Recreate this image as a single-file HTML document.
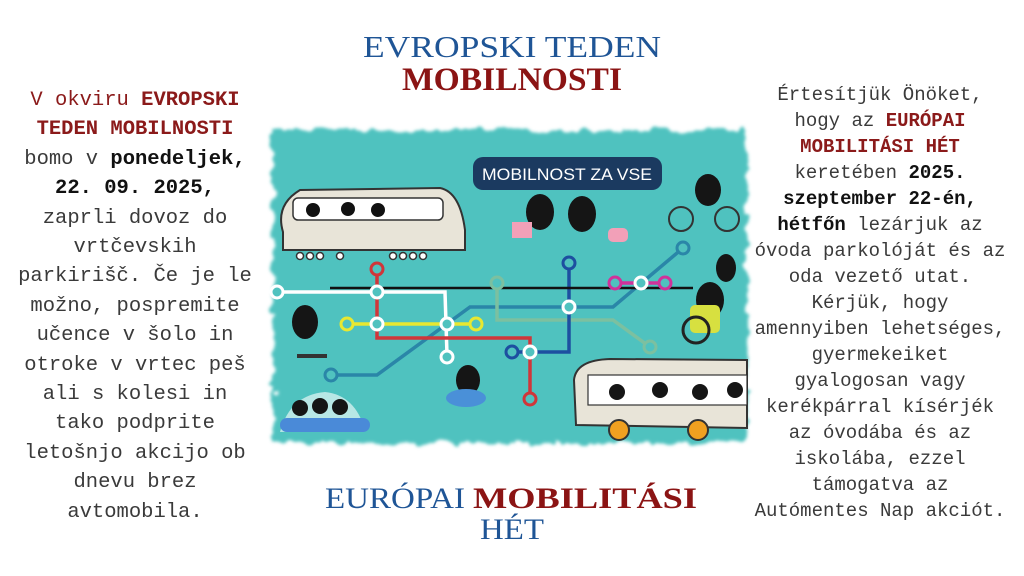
<!DOCTYPE html>
<html><head><meta charset="utf-8"><style>
html,body{margin:0;padding:0;background:#fff;}
body{width:1024px;height:576px;position:relative;overflow:hidden;}
.col{position:absolute;font-family:"Liberation Mono",monospace;text-align:center;color:#3a3a3a;white-space:nowrap;}
.col b{color:#111;}
.col .r{color:#8b1a1a;font-weight:bold;}
#L{left:0;width:270px;top:86px;font-size:20.5px;line-height:29.4px;}
#R{left:742px;width:276px;top:82px;font-size:19px;line-height:26px;}
svg{position:absolute;left:0;top:0;}
</style></head><body>
<svg width="1024" height="576" viewBox="0 0 1024 576">
<defs>
<filter id="f" x="-5%" y="-5%" width="110%" height="110%">
<feTurbulence type="fractalNoise" baseFrequency="0.08" numOctaves="2" result="n"/>
<feDisplacementMap in="SourceGraphic" in2="n" scale="14"/>
<feGaussianBlur stdDeviation="1.5"/>
</filter>
</defs>
<!-- titles -->
<text x="512" y="57" text-anchor="middle" font-family="Liberation Serif,serif" font-size="31" fill="#1f5596" textLength="298" lengthAdjust="spacingAndGlyphs">EVROPSKI TEDEN</text>
<text x="512" y="90" text-anchor="middle" font-family="Liberation Serif,serif" font-size="33" font-weight="bold" fill="#8b1414" textLength="220" lengthAdjust="spacingAndGlyphs">MOBILNOSTI</text>
<text x="325" y="508" font-family="Liberation Serif,serif" font-size="30" fill="#1f5596" textLength="140" lengthAdjust="spacingAndGlyphs">EURÓPAI</text>
<text x="473" y="508" font-family="Liberation Serif,serif" font-size="30" font-weight="bold" fill="#8b1414" textLength="224" lengthAdjust="spacingAndGlyphs">MOBILITÁSI</text>
<text x="512" y="539" text-anchor="middle" font-family="Liberation Serif,serif" font-size="30" fill="#1f5596" textLength="64" lengthAdjust="spacingAndGlyphs">HÉT</text>
<!-- teal panel -->
<rect x="273" y="130" width="474" height="313" fill="#50c2bf" filter="url(#f)"/>
<!-- pill -->
<rect x="473" y="157" width="189" height="33" rx="10" fill="#1b3a60"/>
<text x="567" y="180" text-anchor="middle" font-family="Liberation Sans,sans-serif" font-size="17" fill="#fff" textLength="170" lengthAdjust="spacingAndGlyphs">MOBILNOST ZA VSE</text>
<!-- tram -->
<path d="M283 232 Q275 205 300 190 L440 188 Q460 192 465 230 L465 250 L283 250 Z" fill="#e8e4d8" stroke="#333" stroke-width="2"/>
<rect x="293" y="198" width="150" height="22" rx="5" fill="#fff" stroke="#333" stroke-width="1.5"/>
<circle cx="313" cy="210" r="7" fill="#111"/><circle cx="348" cy="209" r="7" fill="#111"/><circle cx="378" cy="210" r="7" fill="#111"/>
<g fill="#fff" stroke="#333" stroke-width="1.5"><circle cx="300" cy="256" r="3.5"/><circle cx="310" cy="256" r="3.5"/><circle cx="320" cy="256" r="3.5"/><circle cx="340" cy="256" r="3.5"/><circle cx="393" cy="256" r="3.5"/><circle cx="403" cy="256" r="3.5"/><circle cx="413" cy="256" r="3.5"/><circle cx="423" cy="256" r="3.5"/></g>
<!-- lines -->
<g fill="none" stroke-width="3.5">
<polyline points="331,375 377,375 470,307 613,307 683,248" stroke="#2a86a8"/>
<polyline points="497,283 497,320 613,320 650,347" stroke="#7cc0a0"/>
<polyline points="277,292 445,292 447,355" stroke="#fff"/>
<polyline points="377,270 377,338 530,338 530,400" stroke="#d0363a"/>
<line x1="347" y1="324" x2="476" y2="324" stroke="#e8e830"/>
<polyline points="569,263 569,352 512,352" stroke="#1d4fa0"/>
<line x1="615" y1="283" x2="665" y2="283" stroke="#d0329a"/>
</g>
<line x1="330" y1="288" x2="693" y2="288" stroke="#111" stroke-width="2.5"/>
<g stroke-width="3" fill="#50c2bf">
<circle cx="277" cy="292" r="6" stroke="#fff"/><circle cx="447" cy="357" r="6" stroke="#fff"/>
<circle cx="377" cy="269" r="6" stroke="#d0363a"/><circle cx="530" cy="399" r="6" stroke="#d0363a"/>
<circle cx="347" cy="324" r="6" stroke="#e8e830"/><circle cx="476" cy="324" r="6" stroke="#e8e830"/>
<circle cx="331" cy="375" r="6" stroke="#2a86a8"/><circle cx="683" cy="248" r="6" stroke="#2a86a8"/>
<circle cx="569" cy="263" r="6" stroke="#1d4fa0"/><circle cx="512" cy="352" r="6" stroke="#1d4fa0"/>
<circle cx="615" cy="283" r="6" stroke="#d0329a"/><circle cx="665" cy="283" r="6" stroke="#d0329a"/>
<circle cx="497" cy="283" r="6" stroke="#7cc0a0"/><circle cx="650" cy="347" r="6" stroke="#7cc0a0"/>
<circle cx="377" cy="292" r="6" stroke="#fff"/><circle cx="377" cy="324" r="6" stroke="#fff"/><circle cx="447" cy="324" r="6" stroke="#fff"/><circle cx="569" cy="307" r="6" stroke="#fff"/><circle cx="530" cy="352" r="6" stroke="#fff"/><circle cx="641" cy="283" r="6" stroke="#fff"/>
</g>
<!-- characters -->
<g fill="#151515">
<ellipse cx="540" cy="212" rx="14" ry="18"/><ellipse cx="582" cy="214" rx="14" ry="18"/>
<ellipse cx="305" cy="322" rx="13" ry="17"/>
<ellipse cx="468" cy="380" rx="12" ry="15"/>
<ellipse cx="708" cy="190" rx="13" ry="16"/>
<ellipse cx="726" cy="268" rx="10" ry="14"/>
<ellipse cx="710" cy="300" rx="14" ry="18"/>
</g>
<rect x="512" y="222" width="20" height="16" fill="#f2a0b8"/>
<rect x="608" y="228" width="20" height="14" rx="5" fill="#f2a0b8"/>
<rect x="690" y="305" width="30" height="28" rx="5" fill="#d7e040"/>
<circle cx="696" cy="330" r="13" fill="none" stroke="#222" stroke-width="3"/>
<g fill="none" stroke="#333" stroke-width="2"><circle cx="681" cy="219" r="12"/><circle cx="727" cy="219" r="12"/></g>
<rect x="297" y="354" width="30" height="4" fill="#333"/>
<ellipse cx="466" cy="398" rx="20" ry="9" fill="#4a90d8"/>
<path d="M280 432 Q290 395 325 392 Q355 395 365 430 Z" fill="#fff" opacity="0.6"/>
<rect x="280" y="418" width="90" height="14" rx="7" fill="#4a8ad8"/>
<g fill="#151515"><circle cx="300" cy="408" r="8"/><circle cx="320" cy="406" r="8"/><circle cx="340" cy="407" r="8"/></g>
<!-- bus -->
<path d="M576 425 L574 380 Q576 360 610 359 L747 360 L747 428 Z" fill="#e8e4d8" stroke="#333" stroke-width="2"/>
<rect x="588" y="375" width="159" height="30" fill="#fff" stroke="#333" stroke-width="1.2"/>
<g fill="#151515"><circle cx="617" cy="392" r="8"/><circle cx="660" cy="390" r="8"/><circle cx="700" cy="392" r="8"/><circle cx="735" cy="390" r="8"/></g>
<circle cx="619" cy="430" r="10" fill="#f0a020" stroke="#333" stroke-width="2"/>
<circle cx="698" cy="430" r="10" fill="#f0a020" stroke="#333" stroke-width="2"/>
</svg>
<div class="col" id="L"><span class="r">V okviru</span><span class="r"> EVROPSKI</span><br><span class="r">TEDEN MOBILNOSTI</span><br>bomo v <b>ponedeljek,</b><br><b>22. 09. 2025,</b><br>zaprli dovoz do<br>vrtčevskih<br>parkirišč. Če je le<br>možno, pospremite<br>učence v šolo in<br>otroke v vrtec peš<br>ali s kolesi in<br>tako podprite<br>letošnjo akcijo ob<br>dnevu brez<br>avtomobila.</div>
<div class="col" id="R">Értesítjük Önöket,<br>hogy az <span class="r">EURÓPAI</span><br><span class="r">MOBILITÁSI HÉT</span><br>keretében <b>2025.</b><br><b>szeptember 22-én,</b><br><b>hétfőn</b> lezárjuk az<br>óvoda parkolóját és az<br>oda vezető utat.<br>Kérjük, hogy<br>amennyiben lehetséges,<br>gyermekeiket<br>gyalogosan vagy<br>kerékpárral kísérjék<br>az óvodába és az<br>iskolába, ezzel<br>támogatva az<br>Autómentes Nap akciót.</div>
<style>#L .r:first-child{color:#8b1a1a;font-weight:normal}</style>
</body></html>
